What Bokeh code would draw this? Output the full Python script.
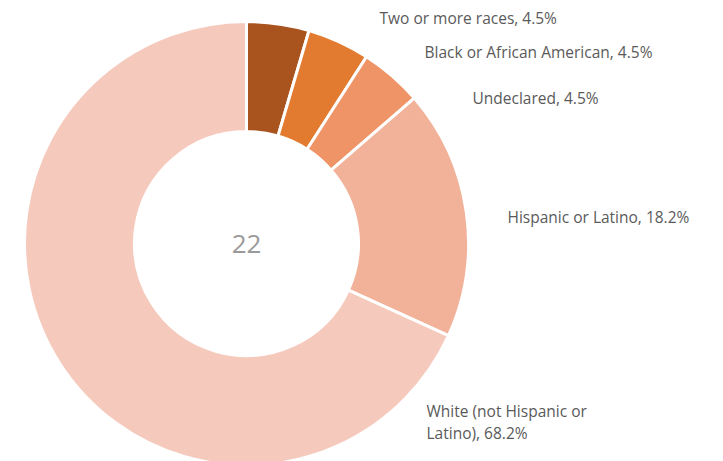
import math
from bokeh.plotting import figure
from bokeh.models import ColumnDataSource, Range1d
from bokeh.core.properties import value
from bokeh.embed import file_html
from bokeh.resources import INLINE

categories = ["Two or more races", "Black or African American", "Undeclared",
              "Hispanic or Latino", "White (not Hispanic or Latino)"]
counts = [1, 1, 1, 4, 15]
percent_labels = ["Two or more races, 4.5%", "Black or African American, 4.5%",
                  "Undeclared, 4.5%", "Hispanic or Latino, 18.2%",
                  "White (not Hispanic or\nLatino), 68.2%"]
colors = ["#a9531f", "#e27a2f", "#ef9466", "#f2b199", "#f5cabd"]
total_label = "22"

W, H = 707, 461
# pixel helpers (page pixel -> data coords)
def px(x):
    return x
def py(y):
    return H - y

cx, cy = px(246), py(243)
r_out, r_in = 222, 112

total = sum(counts)
starts, ends = [], []
cum = 0
for c in counts:
    starts.append(math.pi / 2 - 2 * math.pi * cum / total)
    cum += c
    ends.append(math.pi / 2 - 2 * math.pi * cum / total)

src = ColumnDataSource(dict(start=starts, end=ends, color=colors, cat=categories))

p = figure(width=W, height=H, output_backend="svg", toolbar_location=None,
           x_range=Range1d(0, W), y_range=Range1d(0, H), min_border=0)
p.axis.visible = False
p.grid.visible = False
p.outline_line_color = None
p.background_fill_color = "white"

p.annular_wedge(x=cx, y=cy, inner_radius=r_in, outer_radius=r_out,
                start_angle="start", end_angle="end", direction="clock",
                fill_color="color", line_color="white", line_width=3, source=src)

p.text(x=[cx], y=[cy], text=[total_label], text_font=value("Open Sans"),
       text_font_size="26px", text_color="#9a9a9a", text_align="center",
       text_baseline="middle")

anchor_x = [379, 424, 472, 507, 426]
anchor_y = [17, 51, 97, 216, 410]
line_gap = 22
tx, ty, tt = [], [], []
for lab, ax, ay in zip(percent_labels, anchor_x, anchor_y):
    for i, line in enumerate(lab.split("\n")):
        tx.append(px(ax))
        ty.append(py(ay + i * line_gap))
        tt.append(line)
p.text(x=tx, y=ty, text=tt, text_font=value("Open Sans"),
       text_font_size="15.5px", text_color="#5a5a5a", text_align="left",
       text_baseline="middle")

open("out.html", "w").write(file_html(p, INLINE))
